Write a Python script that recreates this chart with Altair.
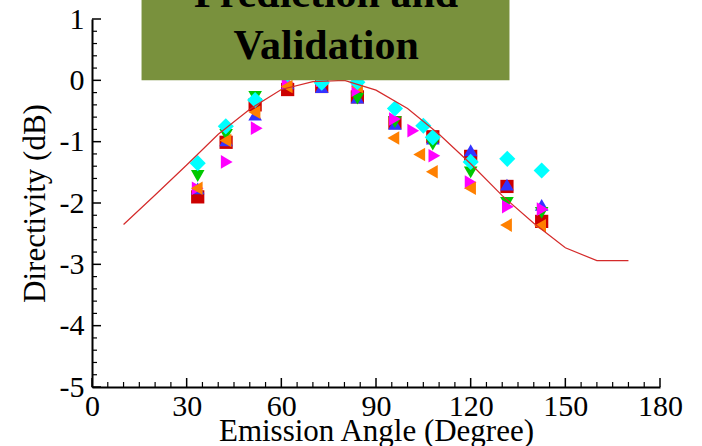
import altair as alt
import pandas as pd

# ---- prediction curve ----
line_angle = [10, 20, 30, 40, 50, 60, 70, 80, 90, 100, 110, 120, 130, 140, 150, 160, 170]
line_db = [-2.35, -1.87, -1.38, -0.88, -0.47, -0.15, -0.02, 0.0, -0.16, -0.46, -0.88, -1.36, -1.88, -2.33, -2.73, -2.94, -2.94]

# ---- measured data series ----
red_angle = [33.5, 42.5, 51.7, 62.0, 72.8, 84.1, 96.0, 108.0, 120.0, 131.5, 142.5]
red_db = [-1.90, -1.01, -0.40, -0.15, -0.10, -0.27, -0.69, -0.92, -1.24, -1.73, -2.30]

blue_angle = [33.5, 42.5, 51.7, 62.0, 72.8, 84.1, 96.0, 108.0, 120.0, 131.5, 142.5]
blue_db = [-1.76, -0.98, -0.56, -0.05, -0.11, -0.28, -0.71, -0.95, -1.14, -1.70, -2.03]

green_angle = [33.5, 42.5, 51.7, 62.0, 72.8, 84.1, 96.0, 108.0, 120.0, 131.5, 142.5]
green_db = [-1.56, -0.89, -0.27, 0.08, 0.05, -0.30, -0.68, -1.05, -1.50, -2.00, -2.16]

magenta_angle = [33.5, 42.7, 52.2, 62.0, 72.8, 84.1, 96.0, 101.8, 108.5, 120.0, 131.8, 142.8]
magenta_db = [-1.76, -1.33, -0.78, -0.04, 0.00, -0.16, -0.63, -0.82, -1.23, -1.66, -2.06, -2.10]

orange_angle = [33.2, 42.3, 51.5, 61.7, 84.0, 95.5, 103.7, 107.7, 119.8, 131.2, 142.0]
orange_db = [-1.76, -0.98, -0.52, -0.10, -0.10, -0.94, -1.21, -1.49, -1.76, -2.36, -2.37]

cyan_angle = [33.5, 42.4, 51.7, 62.0, 72.8, 84.1, 96.0, 105.0, 108.0, 120.0, 131.6, 142.5]
cyan_db = [-1.35, -0.75, -0.32, 0.10, -0.04, -0.03, -0.46, -0.74, -0.93, -1.33, -1.28, -1.47]

# ---- axis ticks ----
x_major = [0, 30, 60, 90, 120, 150, 180]
x_minor = [v for v in range(0, 181, 5) if v % 30 != 0]
y_major = [1, 0, -1, -2, -3, -4, -5]
y_minor = [round(-5 + 0.2 * i, 1) for i in range(31) if (i % 5) != 0]

# ---- annotation box ----
box_text = ["Prediction and", "Validation"]
box_text_y = [1.20, 0.352]
box_text_x = [74.2, 74.2]
box_x = [15.7, 132.3]
box_y = [0.0, 1.4]

W, H = 568, 368
FONT = "Liberation Serif"

xs = alt.Scale(domain=[0, 180], nice=False, zero=False)
ys = alt.Scale(domain=[-5, 1], nice=False, zero=False)

xaxis = alt.Axis(values=x_major, title="Emission Angle (Degree)", grid=False, ticks=False, tickSize=0,
                 labelPadding=4, labelFlush=False, labelExpr="'' + datum.value",
                 titleY=53, titleBaseline="alphabetic")
yaxis = alt.Axis(values=y_major, title="Directivity (dB)", grid=False, ticks=False, tickSize=0,
                 labelPadding=8, labelFlush=False, labelExpr="'' + datum.value", titleX=-48, titleY=H / 2,
                 titleBaseline="alphabetic", titleAngle=270, titleAlign="center")


def X(field):
    return alt.X(field, type="quantitative", scale=xs, axis=xaxis)


def Y(field):
    return alt.Y(field, type="quantitative", scale=ys, axis=yaxis)


def series(angles, vals, shape, color, size):
    df = pd.DataFrame({"angle": angles, "db": vals})
    return alt.Chart(df).mark_point(shape=shape, filled=True, opacity=1, size=size,
                                    color=color, strokeWidth=0).encode(x=X("angle"), y=Y("db"))


xtick_major = alt.Chart(pd.DataFrame({"v": x_major})).mark_rule(color="black", strokeWidth=1.5).encode(
    x=X("v"), y=alt.value(H), y2=alt.value(H - 9))
xtick_minor = alt.Chart(pd.DataFrame({"v": x_minor})).mark_rule(color="black", strokeWidth=1.2).encode(
    x=X("v"), y=alt.value(H), y2=alt.value(H - 5))
ytick_major = alt.Chart(pd.DataFrame({"v": y_major})).mark_rule(color="black", strokeWidth=1.5).encode(
    y=Y("v"), x=alt.value(0), x2=alt.value(9))
ytick_minor = alt.Chart(pd.DataFrame({"v": y_minor})).mark_rule(color="black", strokeWidth=1.2).encode(
    y=Y("v"), x=alt.value(0), x2=alt.value(5))

pred = alt.Chart(pd.DataFrame({"angle": line_angle, "db": line_db})).mark_line(
    color="#d42a2a", strokeWidth=1.2).encode(x=X("angle"), y=Y("db"))

box = alt.Chart(pd.DataFrame({"x0": [box_x[0]], "x1": [box_x[1]], "y0": [box_y[0]], "y1": [box_y[1]]})).mark_rect(
    color="#79913d", opacity=1).encode(x=X("x0"), x2="x1", y=Y("y0"), y2="y1")

box_label = alt.Chart(pd.DataFrame({"t": box_text, "x": box_text_x, "y": box_text_y})).mark_text(
    font=FONT, fontSize=42, fontWeight="bold", color="black", align="center", baseline="alphabetic").encode(
    x=X("x"), y=Y("y"), text="t:N")

chart = alt.layer(
    xtick_minor, xtick_major, ytick_minor, ytick_major,
    series(red_angle, red_db, "square", "#cc0000", 175),
    series(blue_angle, blue_db, "triangle-up", "#3333ff", 185),
    series(green_angle, green_db, "triangle-down", "#00c800", 185),
    series(magenta_angle, magenta_db, "triangle-right", "#ff00ff", 185),
    series(orange_angle, orange_db, "triangle-left", "#ff8000", 185),
    series(cyan_angle, cyan_db, "diamond", "#00ffff", 260),
    pred,
    box,
    box_label,
).properties(
    width=W, height=H,
    autosize=alt.AutoSizeParams(type="none"),
    padding={"left": 92, "top": 19, "right": 42, "bottom": 59},
    background="white",
).configure_view(stroke=None).configure_axis(
    domainColor="black", domainWidth=2,
    labelFont=FONT, labelFontSize=30, labelColor="black",
    titleFont=FONT, titleFontSize=31, titleFontWeight="normal", titleColor="black",
)

chart.save("out.html", embed_options={"renderer": "svg", "actions": False})
